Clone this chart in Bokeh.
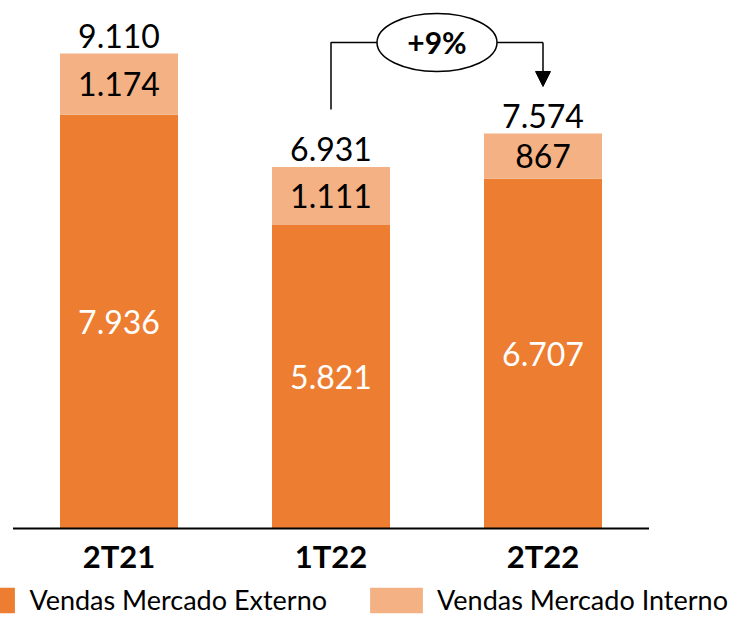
from bokeh.plotting import figure
from bokeh.models import Range1d, Legend, LegendItem, Arrow, NormalHead
from bokeh.core.properties import value
from bokeh.embed import file_html
from bokeh.resources import INLINE

# ---- data ----
categories = ["2T21", "1T22", "2T22"]
externo = [7936, 5821, 6707]
interno = [1174, 1111, 867]
totais = [9110, 6931, 7574]
series_names = ["Vendas Mercado Externo", "Vendas Mercado Interno"]

# ---- layout constants ----
W, H = 740, 619
PX_PER_X = 212.0      # pixels per category step
X0_PX = 118.5         # pixel position of first category centre
BASE_PX = 528         # pixel row of the zero line
UNITS_PER_PX = 19.18  # data units per vertical pixel

DARK = "#ED7D31"
LIGHT = "#F4B183"
FONT = value("Lato")


def fmt(v):
    return f"{v:,}".replace(",", ".")


xs = list(range(len(categories)))
tops = [e + i for e, i in zip(externo, interno)]

p = figure(
    width=W, height=H, output_backend="svg", toolbar_location=None,
    x_range=Range1d(-X0_PX / PX_PER_X, (W - X0_PX) / PX_PER_X),
    y_range=Range1d(-(H - BASE_PX) * UNITS_PER_PX, BASE_PX * UNITS_PER_PX),
    x_axis_location=None, y_axis_location=None,
    min_border=0, outline_line_color=None,
)
p.grid.visible = False
p.background_fill_color = "white"
p.border_fill_color = "white"

bw = 118 / PX_PER_X
r_ext = p.vbar(x=xs, width=bw, bottom=0, top=externo, fill_color=DARK, line_color=None)
r_int = p.vbar(x=xs, width=bw, bottom=externo, top=tops, fill_color=LIGHT, line_color=None)

# zero line
p.segment(x0=[-0.5], y0=[0], x1=[len(categories) - 0.5], y1=[0], line_color="black", line_width=2)

# value labels
p.text(x=xs, y=totais, text=[fmt(v) for v in totais], text_align="center",
       text_baseline="middle", y_offset=-18, text_font=FONT, text_font_size="32px",
       text_color="black")
p.text(x=xs, y=[e / 2 for e in externo], text=[fmt(v) for v in externo], text_align="center",
       text_baseline="middle", y_offset=0, text_font=FONT, text_font_size="32px",
       text_color="white")
p.text(x=xs, y=[e + i / 2 for e, i in zip(externo, interno)], text=[fmt(v) for v in interno],
       text_align="center", text_baseline="middle", y_offset=0, text_font=FONT,
       text_font_size="32px", text_color="black")

# category labels
p.text(x=xs, y=[0] * len(xs), text=categories, text_align="center", text_baseline="middle",
       y_offset=27.5, text_font=FONT, text_font_size="31px", text_font_style="bold",
       text_color="black")

# growth bracket between 1T22 and 2T22
i1, i2 = 1, 2
bracket_y = 9321
left_bottom = totais[i1] + 1105
arrow_tip = totais[i2] + 904
p.line(x=[i1, i1, i2], y=[left_bottom, bracket_y, bracket_y], line_color="black", line_width=1.5)
p.add_layout(Arrow(end=NormalHead(size=15, fill_color="black", line_color="black"),
                   x_start=i2, y_start=bracket_y, x_end=i2, y_end=arrow_tip,
                   line_color="black", line_width=1.5))
mid = (i1 + i2) / 2
p.ellipse(x=[mid], y=[bracket_y], width=120, height=58, width_units="screen",
          height_units="screen", fill_color="white", line_color="black", line_width=1.5)
growth = round((totais[i2] / totais[i1] - 1) * 100)
p.text(x=[mid], y=[bracket_y], text=[f"+{growth}%"], text_align="center",
       text_baseline="middle", y_offset=-1, text_font=FONT, text_font_size="30px",
       text_font_style="bold", text_color="black")

legend = Legend(
    items=[LegendItem(label=series_names[0], renderers=[r_ext]),
           LegendItem(label=series_names[1], renderers=[r_int])],
    orientation="horizontal", location=(-44.6, 3),
    glyph_width=66, glyph_height=32, label_standoff=8, spacing=36,
    label_text_font="Lato", label_text_font_size="27px", label_text_color="black",
    padding=0, margin=0, border_line_alpha=0, background_fill_alpha=0,
)
p.add_layout(legend)

open("out.html", "w").write(file_html(p, INLINE))
